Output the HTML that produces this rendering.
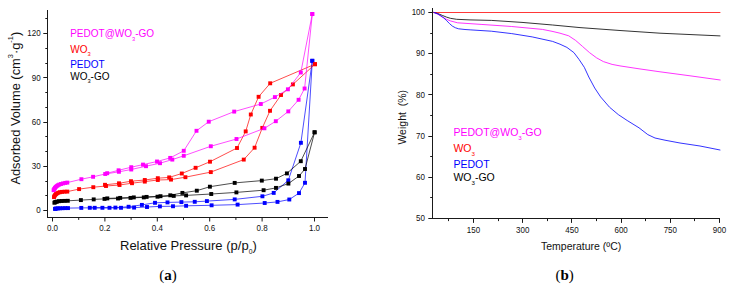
<!DOCTYPE html>
<html><head><meta charset="utf-8"><style>
html,body{margin:0;padding:0;background:#fff;}
body{width:734px;height:288px;overflow:hidden;}
svg{display:block;}

</style></head><body>
<svg width="734" height="288" viewBox="0 0 734 288">
<g stroke="#1a1a1a" stroke-width="1.0" fill="none">
<line x1="47.5" y1="10.0" x2="47.5" y2="217.95"/>
<line x1="47.05" y1="217.5" x2="328.0" y2="217.5"/>
<line x1="43.30" y1="210.50" x2="47.5" y2="210.50"/>
<line x1="45.30" y1="195.50" x2="47.5" y2="195.50"/>
<line x1="45.30" y1="181.50" x2="47.5" y2="181.50"/>
<line x1="43.30" y1="166.50" x2="47.5" y2="166.50"/>
<line x1="45.30" y1="151.50" x2="47.5" y2="151.50"/>
<line x1="45.30" y1="136.50" x2="47.5" y2="136.50"/>
<line x1="43.30" y1="122.50" x2="47.5" y2="122.50"/>
<line x1="45.30" y1="107.50" x2="47.5" y2="107.50"/>
<line x1="45.30" y1="92.50" x2="47.5" y2="92.50"/>
<line x1="43.30" y1="77.50" x2="47.5" y2="77.50"/>
<line x1="45.30" y1="63.50" x2="47.5" y2="63.50"/>
<line x1="45.30" y1="48.50" x2="47.5" y2="48.50"/>
<line x1="43.30" y1="33.50" x2="47.5" y2="33.50"/>
<line x1="45.30" y1="18.50" x2="47.5" y2="18.50"/>
<line x1="52.50" y1="217.5" x2="52.50" y2="221.5"/>
<line x1="78.70" y1="217.5" x2="78.70" y2="219.9"/>
<line x1="104.90" y1="217.5" x2="104.90" y2="221.5"/>
<line x1="131.10" y1="217.5" x2="131.10" y2="219.9"/>
<line x1="157.30" y1="217.5" x2="157.30" y2="221.5"/>
<line x1="183.50" y1="217.5" x2="183.50" y2="219.9"/>
<line x1="209.70" y1="217.5" x2="209.70" y2="221.5"/>
<line x1="235.90" y1="217.5" x2="235.90" y2="219.9"/>
<line x1="262.10" y1="217.5" x2="262.10" y2="221.5"/>
<line x1="288.30" y1="217.5" x2="288.30" y2="219.9"/>
<line x1="314.50" y1="217.5" x2="314.50" y2="221.5"/>
</g>
<g font-family="Liberation Sans, sans-serif" font-size="8" fill="#111">
<text transform="translate(40.6,213.25) scale(1,1.22)" text-anchor="end">0</text>
<text transform="translate(40.6,169.00) scale(1,1.22)" text-anchor="end">30</text>
<text transform="translate(40.6,124.75) scale(1,1.22)" text-anchor="end">60</text>
<text transform="translate(40.6,80.50) scale(1,1.22)" text-anchor="end">90</text>
<text transform="translate(40.6,36.25) scale(1,1.22)" text-anchor="end">120</text>
<text transform="translate(52.50,230.95) scale(1,1.16)" text-anchor="middle">0.0</text>
<text transform="translate(104.90,230.95) scale(1,1.16)" text-anchor="middle">0.2</text>
<text transform="translate(157.30,230.95) scale(1,1.16)" text-anchor="middle">0.4</text>
<text transform="translate(209.70,230.95) scale(1,1.16)" text-anchor="middle">0.6</text>
<text transform="translate(262.10,230.95) scale(1,1.16)" text-anchor="middle">0.8</text>
<text transform="translate(314.50,230.95) scale(1,1.16)" text-anchor="middle">1.0</text>
</g>
<g font-family="Liberation Sans, sans-serif" font-size="13" fill="#111">
<text x="120.0" y="249.8">Relative Pressure (p/p<tspan font-size="6.8" dy="4.6">0</tspan><tspan dy="-4.6">)</tspan></text>
<text transform="translate(19.6,184.6) rotate(-90)" x="0" y="0" font-size="12.85">Adsorbed Volume (cm<tspan font-size="7.4" dy="-6.6">3</tspan><tspan dy="6.6">·g</tspan><tspan font-size="7.4" dy="-6.6">-1</tspan><tspan dy="6.6">)</tspan></text>
</g>
<g font-family="Liberation Sans, sans-serif" font-size="10">
<text x="70.2" y="37.3" fill="#ff00ff">PEDOT@WO<tspan font-size="5.7" dy="3.4">3</tspan><tspan dy="-3.4">-GO</tspan></text>
<text x="70.2" y="52.5" fill="#ff0000">WO<tspan font-size="5.7" dy="3.4">3</tspan></text>
<text x="70.2" y="68.2" fill="#0000ff">PEDOT</text>
<text x="70.2" y="80.0" fill="#000">WO<tspan font-size="5.7" dy="3.4">3</tspan><tspan dy="-3.4">-GO</tspan></text>
</g>
<path d="M55.00,208.90 L55.60,208.70 L56.30,208.50 L58.00,208.40 L60.00,208.30 L62.50,208.20 L65.20,208.10 L68.00,208.10 L81.30,207.90 L94.70,207.80 L109.50,207.80 L121.00,207.80 L134.10,207.60 L147.00,207.00 L159.90,206.40 L173.00,206.25 L186.10,205.80 L211.60,205.30 L237.60,204.60 L264.70,203.00 L277.50,201.90 L289.30,199.50 L299.00,193.10 L305.00,182.80 L312.30,60.80 L312.30,60.80 L300.90,142.80 L288.30,180.30 L273.70,192.90 L262.40,196.30 L234.70,199.40 L206.90,201.10 L194.75,201.80 L181.40,202.10 L167.50,202.40 L155.00,202.80 L141.90,204.90 L128.60,206.75 L115.40,207.60 L102.40,207.80 L89.80,207.80" fill="none" stroke="#0000ff" stroke-width="0.7" stroke-linejoin="round"/>
<g fill="#0000ff"><rect x="53.05" y="206.95" width="3.9" height="3.9"/><rect x="53.65" y="206.75" width="3.9" height="3.9"/><rect x="54.35" y="206.55" width="3.9" height="3.9"/><rect x="56.05" y="206.45" width="3.9" height="3.9"/><rect x="58.05" y="206.35" width="3.9" height="3.9"/><rect x="60.55" y="206.25" width="3.9" height="3.9"/><rect x="63.25" y="206.15" width="3.9" height="3.9"/><rect x="66.05" y="206.15" width="3.9" height="3.9"/><rect x="79.35" y="205.95" width="3.9" height="3.9"/><rect x="92.75" y="205.85" width="3.9" height="3.9"/><rect x="107.55" y="205.85" width="3.9" height="3.9"/><rect x="119.05" y="205.85" width="3.9" height="3.9"/><rect x="132.15" y="205.65" width="3.9" height="3.9"/><rect x="145.05" y="205.05" width="3.9" height="3.9"/><rect x="157.95" y="204.45" width="3.9" height="3.9"/><rect x="171.05" y="204.30" width="3.9" height="3.9"/><rect x="184.15" y="203.85" width="3.9" height="3.9"/><rect x="209.65" y="203.35" width="3.9" height="3.9"/><rect x="235.65" y="202.65" width="3.9" height="3.9"/><rect x="262.75" y="201.05" width="3.9" height="3.9"/><rect x="275.55" y="199.95" width="3.9" height="3.9"/><rect x="287.35" y="197.55" width="3.9" height="3.9"/><rect x="297.05" y="191.15" width="3.9" height="3.9"/><rect x="303.05" y="180.85" width="3.9" height="3.9"/><rect x="310.35" y="58.85" width="3.9" height="3.9"/><rect x="310.35" y="58.85" width="3.9" height="3.9"/><rect x="298.95" y="140.85" width="3.9" height="3.9"/><rect x="286.35" y="178.35" width="3.9" height="3.9"/><rect x="271.75" y="190.95" width="3.9" height="3.9"/><rect x="260.45" y="194.35" width="3.9" height="3.9"/><rect x="232.75" y="197.45" width="3.9" height="3.9"/><rect x="204.95" y="199.15" width="3.9" height="3.9"/><rect x="192.80" y="199.85" width="3.9" height="3.9"/><rect x="179.45" y="200.15" width="3.9" height="3.9"/><rect x="165.55" y="200.45" width="3.9" height="3.9"/><rect x="153.05" y="200.85" width="3.9" height="3.9"/><rect x="139.95" y="202.95" width="3.9" height="3.9"/><rect x="126.65" y="204.80" width="3.9" height="3.9"/><rect x="113.45" y="205.65" width="3.9" height="3.9"/><rect x="100.45" y="205.85" width="3.9" height="3.9"/><rect x="87.85" y="205.85" width="3.9" height="3.9"/></g>
<path d="M54.40,202.70 L55.00,202.30 L55.80,201.90 L57.00,201.60 L59.00,201.20 L61.50,201.00 L64.50,200.90 L67.80,200.80 L80.90,200.10 L93.70,199.40 L104.50,198.90 L118.00,198.50 L130.50,197.90 L143.80,197.40 L157.50,196.70 L173.75,195.90 L186.10,195.40 L211.25,194.00 L236.40,192.40 L263.60,190.20 L276.00,187.90 L288.40,183.60 L299.00,176.00 L305.00,169.00 L314.60,132.30 L314.60,132.30 L300.80,161.20 L286.90,173.40 L276.00,178.70 L261.80,180.60 L234.70,182.90 L209.90,186.70 L196.80,190.70 L182.40,192.90 L170.30,195.30 L160.50,196.20 L146.60,196.90 L133.80,197.40 L120.20,197.90 L107.30,198.40" fill="none" stroke="#000000" stroke-width="0.7" stroke-linejoin="round"/>
<g fill="#000000"><rect x="52.45" y="200.75" width="3.9" height="3.9"/><rect x="53.05" y="200.35" width="3.9" height="3.9"/><rect x="53.85" y="199.95" width="3.9" height="3.9"/><rect x="55.05" y="199.65" width="3.9" height="3.9"/><rect x="57.05" y="199.25" width="3.9" height="3.9"/><rect x="59.55" y="199.05" width="3.9" height="3.9"/><rect x="62.55" y="198.95" width="3.9" height="3.9"/><rect x="65.85" y="198.85" width="3.9" height="3.9"/><rect x="78.95" y="198.15" width="3.9" height="3.9"/><rect x="91.75" y="197.45" width="3.9" height="3.9"/><rect x="102.55" y="196.95" width="3.9" height="3.9"/><rect x="116.05" y="196.55" width="3.9" height="3.9"/><rect x="128.55" y="195.95" width="3.9" height="3.9"/><rect x="141.85" y="195.45" width="3.9" height="3.9"/><rect x="155.55" y="194.75" width="3.9" height="3.9"/><rect x="171.80" y="193.95" width="3.9" height="3.9"/><rect x="184.15" y="193.45" width="3.9" height="3.9"/><rect x="209.30" y="192.05" width="3.9" height="3.9"/><rect x="234.45" y="190.45" width="3.9" height="3.9"/><rect x="261.65" y="188.25" width="3.9" height="3.9"/><rect x="274.05" y="185.95" width="3.9" height="3.9"/><rect x="286.45" y="181.65" width="3.9" height="3.9"/><rect x="297.05" y="174.05" width="3.9" height="3.9"/><rect x="303.05" y="167.05" width="3.9" height="3.9"/><rect x="312.65" y="130.35" width="3.9" height="3.9"/><rect x="312.65" y="130.35" width="3.9" height="3.9"/><rect x="298.85" y="159.25" width="3.9" height="3.9"/><rect x="284.95" y="171.45" width="3.9" height="3.9"/><rect x="274.05" y="176.75" width="3.9" height="3.9"/><rect x="259.85" y="178.65" width="3.9" height="3.9"/><rect x="232.75" y="180.95" width="3.9" height="3.9"/><rect x="207.95" y="184.75" width="3.9" height="3.9"/><rect x="194.85" y="188.75" width="3.9" height="3.9"/><rect x="180.45" y="190.95" width="3.9" height="3.9"/><rect x="168.35" y="193.35" width="3.9" height="3.9"/><rect x="158.55" y="194.25" width="3.9" height="3.9"/><rect x="144.65" y="194.95" width="3.9" height="3.9"/><rect x="131.85" y="195.45" width="3.9" height="3.9"/><rect x="118.25" y="195.95" width="3.9" height="3.9"/><rect x="105.35" y="196.45" width="3.9" height="3.9"/></g>
<path d="M54.00,197.10 L54.50,195.90 L55.20,194.90 L56.00,194.00 L57.00,193.30 L58.30,192.70 L60.00,192.20 L62.00,191.90 L64.50,191.70 L67.30,191.60 L79.10,189.10 L93.30,187.20 L106.00,186.00 L119.50,185.00 L132.00,183.20 L144.80,181.60 L157.80,180.00 L171.00,179.60 L185.40,177.20 L210.80,172.10 L243.75,159.60 L254.60,147.70 L262.30,127.90 L270.00,110.80 L281.00,95.00 L292.90,84.40 L315.00,64.20 L315.00,64.20 L270.20,83.30 L258.60,96.80 L250.80,114.50 L245.70,131.40 L237.00,148.00 L210.00,161.70 L195.60,167.80 L181.80,173.50 L169.20,177.40 L157.80,178.20 L144.80,180.00 L131.00,181.20 L119.00,183.30 L105.00,184.80" fill="none" stroke="#ff0000" stroke-width="0.7" stroke-linejoin="round"/>
<g fill="#ff0000"><rect x="52.05" y="195.15" width="3.9" height="3.9"/><rect x="52.55" y="193.95" width="3.9" height="3.9"/><rect x="53.25" y="192.95" width="3.9" height="3.9"/><rect x="54.05" y="192.05" width="3.9" height="3.9"/><rect x="55.05" y="191.35" width="3.9" height="3.9"/><rect x="56.35" y="190.75" width="3.9" height="3.9"/><rect x="58.05" y="190.25" width="3.9" height="3.9"/><rect x="60.05" y="189.95" width="3.9" height="3.9"/><rect x="62.55" y="189.75" width="3.9" height="3.9"/><rect x="65.35" y="189.65" width="3.9" height="3.9"/><rect x="77.15" y="187.15" width="3.9" height="3.9"/><rect x="91.35" y="185.25" width="3.9" height="3.9"/><rect x="104.05" y="184.05" width="3.9" height="3.9"/><rect x="117.55" y="183.05" width="3.9" height="3.9"/><rect x="130.05" y="181.25" width="3.9" height="3.9"/><rect x="142.85" y="179.65" width="3.9" height="3.9"/><rect x="155.85" y="178.05" width="3.9" height="3.9"/><rect x="169.05" y="177.65" width="3.9" height="3.9"/><rect x="183.45" y="175.25" width="3.9" height="3.9"/><rect x="208.85" y="170.15" width="3.9" height="3.9"/><rect x="241.80" y="157.65" width="3.9" height="3.9"/><rect x="252.65" y="145.75" width="3.9" height="3.9"/><rect x="260.35" y="125.95" width="3.9" height="3.9"/><rect x="268.05" y="108.85" width="3.9" height="3.9"/><rect x="279.05" y="93.05" width="3.9" height="3.9"/><rect x="290.95" y="82.45" width="3.9" height="3.9"/><rect x="313.05" y="62.25" width="3.9" height="3.9"/><rect x="313.05" y="62.25" width="3.9" height="3.9"/><rect x="268.25" y="81.35" width="3.9" height="3.9"/><rect x="256.65" y="94.85" width="3.9" height="3.9"/><rect x="248.85" y="112.55" width="3.9" height="3.9"/><rect x="243.75" y="129.45" width="3.9" height="3.9"/><rect x="235.05" y="146.05" width="3.9" height="3.9"/><rect x="208.05" y="159.75" width="3.9" height="3.9"/><rect x="193.65" y="165.85" width="3.9" height="3.9"/><rect x="179.85" y="171.55" width="3.9" height="3.9"/><rect x="167.25" y="175.45" width="3.9" height="3.9"/><rect x="155.85" y="176.25" width="3.9" height="3.9"/><rect x="142.85" y="178.05" width="3.9" height="3.9"/><rect x="129.05" y="179.25" width="3.9" height="3.9"/><rect x="117.05" y="181.35" width="3.9" height="3.9"/><rect x="103.05" y="182.85" width="3.9" height="3.9"/></g>
<path d="M53.60,190.20 L54.20,189.00 L54.90,188.00 L55.70,187.00 L56.70,186.10 L57.80,185.30 L59.20,184.60 L61.00,184.00 L63.00,183.40 L65.20,182.90 L67.30,182.60 L81.40,179.20 L93.10,176.80 L105.20,174.00 L118.90,171.80 L131.25,169.50 L146.00,166.20 L160.00,163.20 L172.30,159.60 L183.75,155.80 L210.80,146.25 L236.50,139.00 L264.40,128.30 L275.80,121.20 L288.30,111.40 L298.60,99.80 L304.60,88.50 L312.30,14.00 L312.30,14.00 L300.80,72.50 L287.90,89.30 L274.90,97.10 L260.80,104.00 L234.20,111.60 L208.75,121.70 L196.50,130.80 L183.75,150.80 L170.20,157.90 L157.00,161.50 L143.00,164.60 L131.25,167.20 L118.60,170.30 L107.20,173.20" fill="none" stroke="#ff00ff" stroke-width="0.7" stroke-linejoin="round"/>
<g fill="#ff00ff"><rect x="51.65" y="188.25" width="3.9" height="3.9"/><rect x="52.25" y="187.05" width="3.9" height="3.9"/><rect x="52.95" y="186.05" width="3.9" height="3.9"/><rect x="53.75" y="185.05" width="3.9" height="3.9"/><rect x="54.75" y="184.15" width="3.9" height="3.9"/><rect x="55.85" y="183.35" width="3.9" height="3.9"/><rect x="57.25" y="182.65" width="3.9" height="3.9"/><rect x="59.05" y="182.05" width="3.9" height="3.9"/><rect x="61.05" y="181.45" width="3.9" height="3.9"/><rect x="63.25" y="180.95" width="3.9" height="3.9"/><rect x="65.35" y="180.65" width="3.9" height="3.9"/><rect x="79.45" y="177.25" width="3.9" height="3.9"/><rect x="91.15" y="174.85" width="3.9" height="3.9"/><rect x="103.25" y="172.05" width="3.9" height="3.9"/><rect x="116.95" y="169.85" width="3.9" height="3.9"/><rect x="129.30" y="167.55" width="3.9" height="3.9"/><rect x="144.05" y="164.25" width="3.9" height="3.9"/><rect x="158.05" y="161.25" width="3.9" height="3.9"/><rect x="170.35" y="157.65" width="3.9" height="3.9"/><rect x="181.80" y="153.85" width="3.9" height="3.9"/><rect x="208.85" y="144.30" width="3.9" height="3.9"/><rect x="234.55" y="137.05" width="3.9" height="3.9"/><rect x="262.45" y="126.35" width="3.9" height="3.9"/><rect x="273.85" y="119.25" width="3.9" height="3.9"/><rect x="286.35" y="109.45" width="3.9" height="3.9"/><rect x="296.65" y="97.85" width="3.9" height="3.9"/><rect x="302.65" y="86.55" width="3.9" height="3.9"/><rect x="310.35" y="12.05" width="3.9" height="3.9"/><rect x="310.35" y="12.05" width="3.9" height="3.9"/><rect x="298.85" y="70.55" width="3.9" height="3.9"/><rect x="285.95" y="87.35" width="3.9" height="3.9"/><rect x="272.95" y="95.15" width="3.9" height="3.9"/><rect x="258.85" y="102.05" width="3.9" height="3.9"/><rect x="232.25" y="109.65" width="3.9" height="3.9"/><rect x="206.80" y="119.75" width="3.9" height="3.9"/><rect x="194.55" y="128.85" width="3.9" height="3.9"/><rect x="181.80" y="148.85" width="3.9" height="3.9"/><rect x="168.25" y="155.95" width="3.9" height="3.9"/><rect x="155.05" y="159.55" width="3.9" height="3.9"/><rect x="141.05" y="162.65" width="3.9" height="3.9"/><rect x="129.30" y="165.25" width="3.9" height="3.9"/><rect x="116.65" y="168.35" width="3.9" height="3.9"/><rect x="105.25" y="171.25" width="3.9" height="3.9"/></g>
<g stroke="#1a1a1a" stroke-width="1.0" fill="none">
<line x1="432.5" y1="8.0" x2="432.5" y2="218.95"/>
<line x1="432.05" y1="218.5" x2="720.0" y2="218.5"/>
<line x1="428.30" y1="218.50" x2="432.5" y2="218.50"/>
<line x1="430.20" y1="197.50" x2="432.5" y2="197.50"/>
<line x1="428.30" y1="177.50" x2="432.5" y2="177.50"/>
<line x1="430.20" y1="156.50" x2="432.5" y2="156.50"/>
<line x1="428.30" y1="136.50" x2="432.5" y2="136.50"/>
<line x1="430.20" y1="115.50" x2="432.5" y2="115.50"/>
<line x1="428.30" y1="94.50" x2="432.5" y2="94.50"/>
<line x1="430.20" y1="74.50" x2="432.5" y2="74.50"/>
<line x1="428.30" y1="53.50" x2="432.5" y2="53.50"/>
<line x1="430.20" y1="33.50" x2="432.5" y2="33.50"/>
<line x1="428.30" y1="12.50" x2="432.5" y2="12.50"/>
<line x1="448.50" y1="218.5" x2="448.50" y2="221.1"/>
<line x1="473.50" y1="218.5" x2="473.50" y2="222.9"/>
<line x1="498.50" y1="218.5" x2="498.50" y2="221.1"/>
<line x1="522.50" y1="218.5" x2="522.50" y2="222.9"/>
<line x1="547.50" y1="218.5" x2="547.50" y2="221.1"/>
<line x1="571.50" y1="218.5" x2="571.50" y2="222.9"/>
<line x1="596.50" y1="218.5" x2="596.50" y2="221.1"/>
<line x1="621.50" y1="218.5" x2="621.50" y2="222.9"/>
<line x1="645.50" y1="218.5" x2="645.50" y2="221.1"/>
<line x1="670.50" y1="218.5" x2="670.50" y2="222.9"/>
<line x1="694.50" y1="218.5" x2="694.50" y2="221.1"/>
<line x1="719.50" y1="218.5" x2="719.50" y2="222.9"/>
</g>
<g font-family="Liberation Sans, sans-serif" font-size="8" fill="#111">
<text transform="translate(425.0,221.20) scale(1,1.22)" text-anchor="end">50</text>
<text transform="translate(425.0,180.00) scale(1,1.22)" text-anchor="end">60</text>
<text transform="translate(425.0,138.80) scale(1,1.22)" text-anchor="end">70</text>
<text transform="translate(425.0,97.60) scale(1,1.22)" text-anchor="end">80</text>
<text transform="translate(425.0,56.40) scale(1,1.22)" text-anchor="end">90</text>
<text transform="translate(425.0,15.20) scale(1,1.22)" text-anchor="end">100</text>
<text transform="translate(473.50,232.7) scale(1,1.2)" text-anchor="middle">150</text>
<text transform="translate(522.70,232.7) scale(1,1.2)" text-anchor="middle">300</text>
<text transform="translate(571.90,232.7) scale(1,1.2)" text-anchor="middle">450</text>
<text transform="translate(621.10,232.7) scale(1,1.2)" text-anchor="middle">600</text>
<text transform="translate(670.30,232.7) scale(1,1.2)" text-anchor="middle">750</text>
<text transform="translate(719.50,232.7) scale(1,1.2)" text-anchor="middle">900</text>
</g>
<g font-family="Liberation Sans, sans-serif" font-size="10.5" fill="#111">
<text x="541.0" y="250.0">Temperature (ºC)</text>
<text transform="translate(406.3,144.6) rotate(-90)" x="0" y="0">Weight  (%)</text>
</g>
<g font-family="Liberation Sans, sans-serif" font-size="10.5">
<text x="453.4" y="135.9" fill="#ff00ff">PEDOT@WO<tspan font-size="6.2" dy="3.7">3</tspan><tspan dy="-3.7">-GO</tspan></text>
<text x="453.4" y="152.0" fill="#ff0000">WO<tspan font-size="6.2" dy="3.7">3</tspan></text>
<text x="453.4" y="168.4" fill="#0000ff">PEDOT</text>
<text x="453.4" y="181.4" fill="#000">WO<tspan font-size="6.2" dy="3.7">3</tspan><tspan dy="-3.7">-GO</tspan></text>
</g>
<path d="M433.50,12.50 L720.00,12.50" fill="none" stroke="#ff3838" stroke-width="1.0" stroke-linejoin="round" stroke-linecap="round"/>
<path d="M434.00,12.50 L438.00,13.60 L442.30,15.40 L446.50,17.10 L450.40,18.30 L456.60,19.30 L470.00,19.90 L491.30,20.40 L522.00,22.40 L552.60,25.00 L580.00,27.60 L620.00,30.50 L660.00,33.20 L720.00,35.90" fill="none" stroke="#000000" stroke-width="0.8" stroke-linejoin="round" stroke-linecap="round"/>
<path d="M434.00,12.50 L438.00,14.30 L442.30,17.10 L446.50,19.30 L450.40,20.90 L457.60,22.80 L481.10,24.40 L511.70,26.50 L542.40,29.40 L552.00,31.30 L560.00,33.20 L568.70,35.80 L575.60,40.40 L582.60,46.50 L589.50,52.60 L596.50,57.80 L603.40,61.60 L612.10,64.40 L620.00,65.90 L639.00,68.80 L660.00,71.80 L690.00,75.80 L720.20,80.00" fill="none" stroke="#ff00ff" stroke-width="0.8" stroke-linejoin="round" stroke-linecap="round"/>
<path d="M434.00,12.50 L437.50,13.80 L440.20,15.40 L443.30,17.50 L446.30,20.30 L449.50,23.60 L452.50,26.20 L455.50,27.80 L458.60,28.80 L465.00,29.50 L470.90,29.90 L491.30,31.20 L511.70,33.60 L532.20,36.90 L552.60,41.40 L560.00,44.20 L566.90,47.40 L573.90,52.60 L579.10,59.50 L584.30,67.30 L588.80,77.00 L594.70,88.00 L600.60,96.90 L609.50,107.20 L618.30,114.60 L627.20,120.50 L639.00,127.80 L647.80,134.60 L655.00,138.00 L665.00,140.20 L680.00,143.00 L700.00,146.00 L720.00,150.00" fill="none" stroke="#0000ff" stroke-width="0.8" stroke-linejoin="round" stroke-linecap="round"/>
<g font-family="Liberation Serif, serif" font-size="15" fill="#000">
<text x="168.1" y="279.7" text-anchor="middle">(<tspan font-weight="bold">a</tspan>)</text>
<text x="564.6" y="279.7" text-anchor="middle">(<tspan font-weight="bold">b</tspan>)</text>
</g>
</svg>
</body></html>
